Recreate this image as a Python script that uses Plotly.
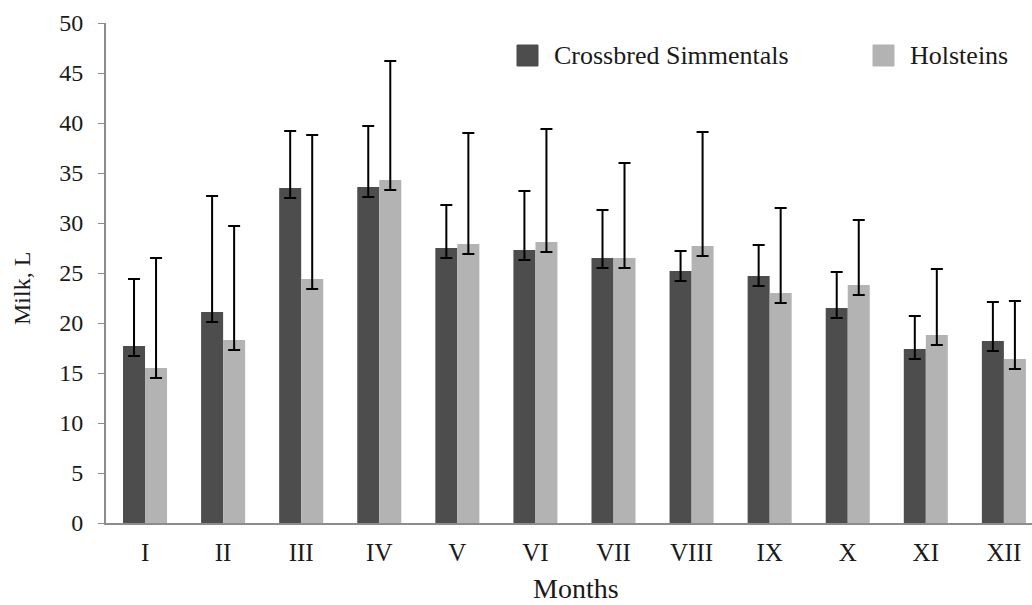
import plotly.graph_objects as go

# Monthly milk yield (L) with upper/lower error-bar ends
months = ["I", "II", "III", "IV", "V", "VI", "VII", "VIII", "IX", "X", "XI", "XII"]

simmental_mean = [17.7, 21.1, 33.5, 33.6, 27.5, 27.3, 26.5, 25.2, 24.7, 21.5, 17.4, 18.2]
simmental_high = [24.4, 32.7, 39.2, 39.7, 31.8, 33.2, 31.3, 27.2, 27.8, 25.1, 20.7, 22.1]
simmental_low = [16.7, 20.1, 32.5, 32.6, 26.5, 26.3, 25.5, 24.2, 23.7, 20.5, 16.4, 17.2]

holstein_mean = [15.5, 18.3, 24.4, 34.3, 27.9, 28.1, 26.5, 27.7, 23.0, 23.8, 18.8, 16.4]
holstein_high = [26.5, 29.7, 38.8, 46.2, 39.0, 39.4, 36.0, 39.1, 31.5, 30.3, 25.4, 22.2]
holstein_low = [14.5, 17.3, 23.4, 33.3, 26.9, 27.1, 25.5, 26.7, 22.0, 22.8, 17.8, 15.4]

series_names = ["Crossbred Simmentals", "Holsteins"]
y_ticks = [0, 5, 10, 15, 20, 25, 30, 35, 40, 45, 50]
x_title = "Months"
y_title = "Milk, L"

DARK = "#4d4d4d"
LIGHT = "#b3b3b3"
FONT = "Liberation Serif"
INK = "#1a1a1a"


def err(mean, high, low):
    up = [round(h - m, 3) for h, m in zip(high, mean)]
    down = [round(m - l, 3) for m, l in zip(mean, low)]
    return dict(type="data", symmetric=False, array=up, arrayminus=down,
                color="black", thickness=2, width=6)


fig = go.Figure()
fig.add_trace(go.Bar(x=months, y=simmental_mean, name=series_names[0],
                     marker=dict(color=DARK, line=dict(width=0)),
                     error_y=err(simmental_mean, simmental_high, simmental_low),
                     showlegend=False))
fig.add_trace(go.Bar(x=months, y=holstein_mean, name=series_names[1],
                     marker=dict(color=LIGHT, line=dict(width=0)),
                     error_y=err(holstein_mean, holstein_high, holstein_low),
                     showlegend=False))

# Plot-area geometry in pixels, used to place keys and titles in paper coords
PL, PW, PB, PH = 106, 926, 523, 500


def px(x):
    return (x - PL) / PW


def py(y):
    return (PB - y) / PH


# Legend keys drawn as squares with labels
legend_items = [(series_names[0], DARK, 517), (series_names[1], LIGHT, 873)]
for name, col, x0 in legend_items:
    fig.add_shape(type="rect", xref="paper", yref="paper",
                  x0=px(x0), x1=px(x0 + 21), y0=py(66), y1=py(45),
                  fillcolor=col, line=dict(color=col, width=1))
    fig.add_annotation(text=name, xref="paper", yref="paper",
                       x=px(x0 + 35), y=py(56),
                       xanchor="left", yanchor="middle", showarrow=False,
                       font=dict(family=FONT, size=26, color=INK))

# Axis titles
fig.add_annotation(text=x_title, xref="paper", yref="paper",
                   x=px(576), y=py(588), xanchor="center", yanchor="middle",
                   showarrow=False, font=dict(family=FONT, size=28, color=INK))
fig.add_annotation(text=y_title, xref="paper", yref="paper",
                   x=px(22), y=py(289), xanchor="center", yanchor="middle",
                   textangle=-90, showarrow=False,
                   font=dict(family=FONT, size=24, color=INK))

fig.update_layout(
    width=1032, height=605,
    margin=dict(l=106, r=0, t=23, b=82),
    paper_bgcolor="white", plot_bgcolor="white",
    barmode="group", bargap=0.436, bargroupgap=0,
    font=dict(family=FONT, size=24, color=INK),
    xaxis=dict(range=[-0.5, 11.36], showline=True, linecolor="#8c8c8c",
               linewidth=2, ticks="", showgrid=False, automargin=False,
               ticklabelstandoff=6, tickfont=dict(size=25)),
    yaxis=dict(range=[0, 50], tickvals=y_ticks, showline=True,
               linecolor="#8c8c8c", linewidth=2, ticks="outside",
               ticklen=6, tickcolor="#8c8c8c", showgrid=False,
               zeroline=False, ticklabelstandoff=10, automargin=False,
               tickfont=dict(size=24)),
)

fig.write_html("out.html")
